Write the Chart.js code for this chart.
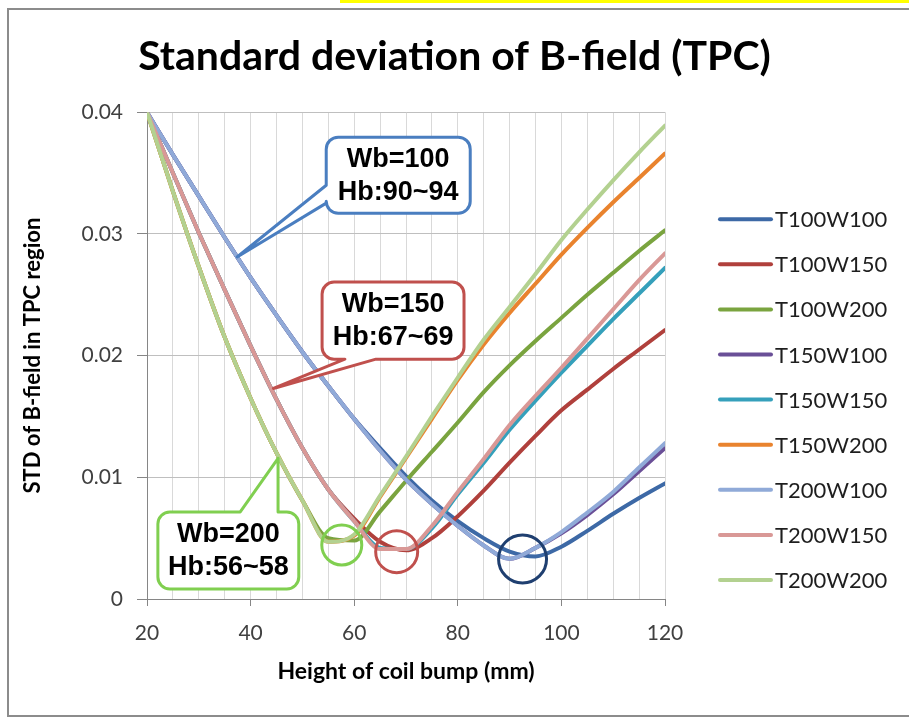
<!DOCTYPE html>
<html>
<head>
<meta charset="utf-8">
<script src="https://cdn.jsdelivr.net/npm/chart.js@4.4.1/dist/chart.umd.min.js"></script>
<style>
  html, body { margin: 0; padding: 0; background: #fff; }
  #wrap { position: relative; width: 909px; height: 721px; overflow: hidden; }
  #frame { position: absolute; left: 7px; top: 8px; width: 1000px; height: 709px; border: 2px solid #8c8c8c; box-sizing: border-box; }
  #mark { position: absolute; left: 340px; top: 0; width: 569px; height: 3px; background: #ffff00; }
  canvas { position: absolute; left: 0; top: 0; }
</style>
</head>
<body>
<div id="wrap">
  <div id="mark"></div>
  <div id="frame"></div>
  <canvas id="chart" width="909" height="721"></canvas>
</div>
<script>
// Height of coil bump (mm)
const heights = [20, 25, 30, 35, 40, 45, 50, 55, 60, 65, 70, 75, 80, 85, 90, 95, 100, 105, 110, 115, 120];

// STD of B-field in TPC region, one list per configuration
const t100w100 = [0.0400, 0.0365, 0.0331, 0.0297, 0.0264, 0.0233, 0.0203, 0.0175, 0.0148, 0.0124, 0.0101, 0.0081, 0.0064, 0.0050, 0.0039, 0.0035, 0.0043, 0.0056, 0.0070, 0.0083, 0.0095];
const t100w150 = [0.0400, 0.0350, 0.0301, 0.0254, 0.0208, 0.0164, 0.0124, 0.0090, 0.0066, 0.0047, 0.0040, 0.0050, 0.0068, 0.0089, 0.0112, 0.0134, 0.0155, 0.0172, 0.0189, 0.0205, 0.0221];
const t100w200 = [0.0400, 0.0335, 0.0273, 0.0215, 0.0165, 0.0120, 0.0081, 0.0050, 0.0048, 0.0072, 0.0097, 0.0121, 0.0145, 0.0170, 0.0192, 0.0212, 0.0231, 0.0250, 0.0268, 0.0286, 0.0303];
const t150w100 = [0.0400, 0.0365, 0.0331, 0.0297, 0.0264, 0.0233, 0.0203, 0.0175, 0.0148, 0.0122, 0.0098, 0.0078, 0.0060, 0.0044, 0.0033, 0.0042, 0.0054, 0.0069, 0.0086, 0.0105, 0.0124];
const t150w150 = [0.0400, 0.0350, 0.0301, 0.0254, 0.0208, 0.0164, 0.0124, 0.0090, 0.0064, 0.0042, 0.0041, 0.0058, 0.0086, 0.0112, 0.0139, 0.0163, 0.0186, 0.0208, 0.0230, 0.0251, 0.0272];
const t150w200 = [0.0400, 0.0335, 0.0273, 0.0215, 0.0165, 0.0120, 0.0081, 0.0047, 0.0052, 0.0084, 0.0116, 0.0148, 0.0180, 0.0209, 0.0235, 0.0259, 0.0283, 0.0305, 0.0326, 0.0346, 0.0366];
const t200w100 = [0.0400, 0.0365, 0.0331, 0.0297, 0.0264, 0.0233, 0.0203, 0.0175, 0.0148, 0.0122, 0.0098, 0.0078, 0.0060, 0.0044, 0.0033, 0.0042, 0.0055, 0.0071, 0.0088, 0.0108, 0.0128];
const t200w150 = [0.0400, 0.0350, 0.0301, 0.0254, 0.0208, 0.0164, 0.0124, 0.0090, 0.0064, 0.0041, 0.0041, 0.0060, 0.0088, 0.0115, 0.0143, 0.0167, 0.0190, 0.0214, 0.0238, 0.0262, 0.0284];
const t200w200 = [0.0400, 0.0335, 0.0273, 0.0215, 0.0165, 0.0120, 0.0081, 0.0047, 0.0053, 0.0085, 0.0117, 0.0150, 0.0182, 0.0213, 0.0240, 0.0267, 0.0295, 0.0320, 0.0344, 0.0367, 0.0389];

const seriesNames = ['T100W100', 'T100W150', 'T100W200', 'T150W100', 'T150W150', 'T150W200', 'T200W100', 'T200W150', 'T200W200'];
const seriesValues = [t100w100, t100w150, t100w200, t150w100, t150w150, t150w200, t200w100, t200w150, t200w200];
const seriesColors = ['#3d69a6', '#b0403c', '#7aa43f', '#6a4f97', '#35a0bb', '#e9832e', '#90aad8', '#d99896', '#b3d190'];

const yTicks = [0, 0.01, 0.02, 0.03, 0.04];
const xMajorTicks = [20, 40, 60, 80, 100, 120];

// Callouts and circles marking the minima (in data units)
const callouts = [
  { lines: ['Wb=100', 'Hb:90~94'], color: '#4a7ec0', box: [54.6, 82.4, 0.03795, 0.0317], side: 'left', base: [0.0340, 0.03253], tip: [37.4, 0.0281] },
  { lines: ['Wb=150', 'Hb:67~69'], color: '#c0504d', box: [53.8, 81.2, 0.02604, 0.01971], side: 'bottom', base: [58.2, 64.2], tip: [44.4, 0.0173] },
  { lines: ['Wb=200', 'Hb:56~58'], color: '#80cf50', box: [22.1, 49.3, 0.00715, 0.00082], side: 'top', base: [38.0, 45.3], tip: [45.3, 0.01156] }
];
const circles = [
  { x: 57.6, y: 0.00444, r: 20, color: '#80cf50' },
  { x: 68.2, y: 0.00389, r: 21, color: '#c0504d' },
  { x: 92.5, y: 0.00329, r: 24, color: '#1f3f70' }
];

const annotate = {
  id: 'annotate',
  afterDatasetsDraw(chart) {
    const ctx = chart.ctx;
    const xs = chart.scales.x, ys = chart.scales.y;
    ctx.save();
    // circles around minima
    circles.forEach(c => {
      ctx.beginPath();
      ctx.arc(xs.getPixelForValue(c.x), ys.getPixelForValue(c.y), c.r, 0, Math.PI * 2);
      ctx.lineWidth = 3;
      ctx.strokeStyle = c.color;
      ctx.stroke();
    });
    // callout boxes with a pointer
    callouts.forEach(c => {
      const l = xs.getPixelForValue(c.box[0]), r = xs.getPixelForValue(c.box[1]);
      const t = ys.getPixelForValue(c.box[2]), b = ys.getPixelForValue(c.box[3]);
      const tx = xs.getPixelForValue(c.tip[0]), ty = ys.getPixelForValue(c.tip[1]);
      const rad = 12;
      ctx.beginPath();
      ctx.moveTo(l + rad, t);
      if (c.side === 'top') {
        ctx.lineTo(xs.getPixelForValue(c.base[0]), t);
        ctx.lineTo(tx, ty);
        ctx.lineTo(xs.getPixelForValue(c.base[1]), t);
      }
      ctx.lineTo(r - rad, t);
      ctx.arcTo(r, t, r, t + rad, rad);
      ctx.lineTo(r, b - rad);
      ctx.arcTo(r, b, r - rad, b, rad);
      if (c.side === 'bottom') {
        ctx.lineTo(xs.getPixelForValue(c.base[1]), b);
        ctx.lineTo(tx, ty);
        ctx.lineTo(xs.getPixelForValue(c.base[0]), b);
      }
      ctx.lineTo(l + rad, b);
      ctx.arcTo(l, b, l, b - rad, rad);
      if (c.side === 'left') {
        ctx.lineTo(l, ys.getPixelForValue(c.base[1]));
        ctx.lineTo(tx, ty);
        ctx.lineTo(l, ys.getPixelForValue(c.base[0]));
      }
      ctx.lineTo(l, t + rad);
      ctx.arcTo(l, t, l + rad, t, rad);
      ctx.closePath();
      ctx.fillStyle = '#fff';
      ctx.fill();
      ctx.lineWidth = 3;
      ctx.lineJoin = 'round';
      ctx.strokeStyle = c.color;
      ctx.stroke();

      ctx.fillStyle = '#000';
      ctx.font = 'bold 27px "Liberation Sans", Arial, sans-serif';
      ctx.textAlign = 'center';
      ctx.textBaseline = 'middle';
      const cx = (l + r) / 2, cy = (t + b) / 2;
      ctx.fillText(c.lines[0], cx, cy - 16);
      ctx.fillText(c.lines[1], cx, cy + 17);
    });
    ctx.restore();
  },
  afterDraw(chart) {
    // legend on the right, one line sample per series
    const ctx = chart.ctx;
    const area = chart.chartArea;
    ctx.save();
    ctx.font = '22px Lato, sans-serif';
    ctx.textBaseline = 'middle';
    ctx.textAlign = 'left';
    chart.data.datasets.forEach((ds, i) => {
      const y = area.top + 107 + i * 45.1;
      ctx.beginPath();
      ctx.moveTo(area.right + 55, y);
      ctx.lineTo(area.right + 106, y);
      ctx.lineWidth = 4;
      ctx.lineCap = 'round';
      ctx.strokeStyle = ds.borderColor;
      ctx.stroke();
      ctx.fillStyle = '#1e1e1e';
      ctx.fillText(ds.label, area.right + 110, y + 1);
    });
    ctx.restore();
  }
};

new Chart(document.getElementById('chart'), {
  type: 'line',
  data: {
    datasets: seriesNames.map((name, i) => ({
      label: name,
      data: heights.map((h, j) => ({ x: h, y: seriesValues[i][j] })),
      borderColor: seriesColors[i],
      backgroundColor: seriesColors[i],
      borderWidth: 4,
      pointRadius: 0,
      cubicInterpolationMode: 'monotone',
      borderCapStyle: 'round',
      borderJoinStyle: 'round',
      fill: false,
      order: -i
    }))
  },
  options: {
    responsive: false,
    animation: false,
    devicePixelRatio: 1,
    layout: { padding: 0 },
    plugins: {
      legend: { display: false },
      tooltip: { enabled: false },
      title: {
        display: true,
        text: 'Standard deviation of B-field (TPC)',
        color: '#000',
        font: { family: 'Lato', size: 41, weight: 'bold' },
        padding: { top: 32, bottom: 31 }
      }
    },
    scales: {
      x: {
        type: 'linear',
        min: 20,
        max: 120,
        afterFit(scale) { scale.height = 122; },
        ticks: {
          stepSize: 5,
          autoSkip: false,
          maxRotation: 0,
          padding: 15,
          color: '#404040',
          font: { family: 'Lato', size: 21 },
          callback: v => xMajorTicks.includes(v) ? String(v) : ''
        },
        grid: {
          color: '#d9d9d9',
          tickLength: 7,
          tickColor: c => (c.tick && xMajorTicks.includes(c.tick.value)) ? '#868686' : 'rgba(0,0,0,0)'
        },
        border: { color: '#868686', width: 1 },
        title: {
          display: true,
          text: 'Height of coil bump (mm)',
          color: '#000',
          font: { family: 'Lato', size: 23, weight: 'bold' },
          padding: { top: 0, bottom: 36 }
        }
      },
      y: {
        min: 0,
        max: 0.04,
        afterFit(scale) { scale.width = 147; },
        afterBuildTicks(scale) { scale.ticks = yTicks.map(v => ({ value: v })); },
        ticks: {
          padding: 14,
          color: '#404040',
          font: { family: 'Lato', size: 21 },
          callback: v => String(Number(v.toFixed(2)))
        },
        grid: { color: '#bfbfbf', tickLength: 10, tickColor: '#868686' },
        border: { color: '#868686', width: 1 },
        title: {
          display: true,
          text: 'STD of B-field in TPC region',
          color: '#000',
          font: { family: 'Lato', size: 22, weight: 'bold' },
          padding: { top: 20, bottom: 0 }
        }
      },
      // empty axis that keeps room on the right for the legend
      legendSpace: {
        position: 'right',
        display: true,
        afterFit(scale) { scale.width = 244; },
        ticks: { display: false },
        grid: { display: false, drawTicks: false },
        border: { display: false }
      }
    }
  },
  plugins: [annotate]
});
</script>
</body>
</html>
